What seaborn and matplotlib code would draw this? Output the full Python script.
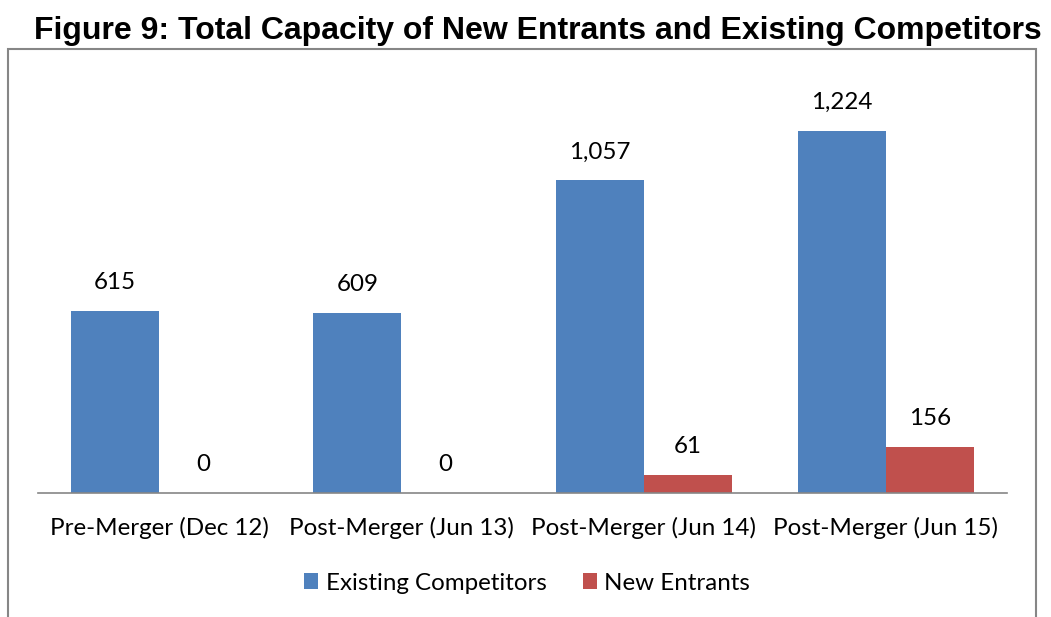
import matplotlib
matplotlib.use("Agg")
import matplotlib.pyplot as plt
import seaborn as sns
import pandas as pd
from matplotlib.patches import Rectangle, Patch

categories = ["Pre-Merger (Dec 12)", "Post-Merger (Jun 13)", "Post-Merger (Jun 14)", "Post-Merger (Jun 15)"]
existing = [615, 609, 1057, 1224]
new_entrants = [0, 0, 61, 156]
series_names = ["Existing Competitors", "New Entrants"]
colors = ["#4F81BD", "#C0504D"]
title = "Figure 9: Total Capacity of New Entrants and Existing Competitors"

df = pd.DataFrame({
    "category": categories * 2,
    "series": [series_names[0]] * 4 + [series_names[1]] * 4,
    "value": existing + new_entrants,
})

sns.set_theme(style="white")
plt.rcParams["font.family"] = ["Lato", "DejaVu Sans"]
plt.rcParams["text.color"] = "black"

W, H = 1051, 617
fig = plt.figure(figsize=(W / 100, H / 100), dpi=100)
ax = fig.add_axes([38 / W, (H - 493) / H, 969 / W, 414 / H])

sns.barplot(data=df, x="category", y="value", hue="series", palette=colors,
            width=0.727, ax=ax, legend=False, saturation=1, edgecolor="none")

ax.set_ylim(0, 1400)
ax.set_xlim(-0.5, 3.5)
for s in ["top", "right", "left"]:
    ax.spines[s].set_visible(False)
ax.spines["bottom"].set_color("#868686")
ax.spines["bottom"].set_linewidth(1.2)
ax.set_yticks([])
ax.set_xlabel("")
ax.set_ylabel("")
ax.tick_params(axis="x", length=0, pad=17, labelsize=17.4, labelcolor="black")

for cont in ax.containers:
    labels = [f"{v:,.0f}" for v in cont.datavalues]
    ax.bar_label(cont, labels=labels, padding=13, fontsize=17.4, color="black")

fig.text(538 / W, 1 - 31 / H, title, ha="center", va="center",
         fontsize=23, fontweight="bold", family="Liberation Sans", color="black")

frame = Rectangle((8 / W, -0.1), (1036 - 8) / W, 1 - 49 / H + 0.1,
                  transform=fig.transFigure, fill=False, edgecolor="#868686",
                  linewidth=1.5, clip_on=False)
fig.patches.append(frame)

handles = [Patch(facecolor=c, edgecolor="none") for c in colors]
fig.legend(handles, series_names, loc="center", bbox_to_anchor=(527 / W, 1 - 583 / H),
           ncol=2, frameon=False, fontsize=17.4, handlelength=0.6, handleheight=0.6,
           handletextpad=0.3, columnspacing=1.5, labelcolor="black")

fig.savefig("out.png", dpi=100)
